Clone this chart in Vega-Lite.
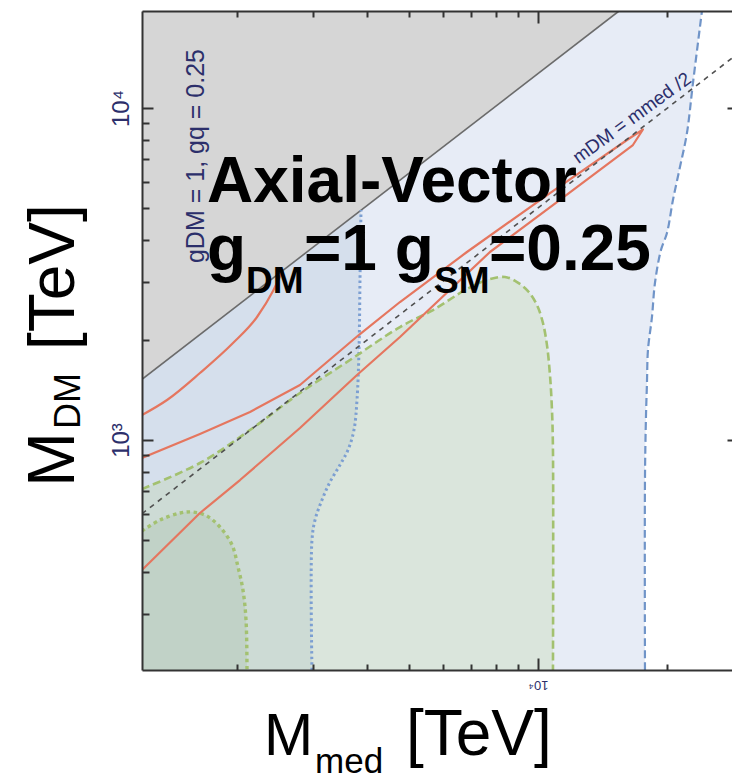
{
  "$schema": "https://vega.github.io/schema/vega-lite/v6.json",
  "width": 590,
  "height": 659,
  "autosize": {"type": "none"},
  "padding": {"left": 142, "top": 11, "right": 0, "bottom": 109},
  "background": "white",
  "config": {
    "view": {"stroke": null},
    "axis": {"grid": false, "domainColor": "#333333", "domainWidth": 2, "tickColor": "#333333", "tickWidth": 2, "labelFont": "Liberation Sans"}
  },
  "datasets": {
    "blueDashed": [
      {"i": 1, "x": 17736, "y": 202.9},
      {"i": 2, "x": 17736, "y": 757.6},
      {"i": 3, "x": 17831, "y": 1173},
      {"i": 4, "x": 17927, "y": 1484.7},
      {"i": 5, "x": 18023, "y": 1866.5},
      {"i": 6, "x": 18413, "y": 2347},
      {"i": 7, "x": 18710, "y": 2971},
      {"i": 8, "x": 19322, "y": 3735},
      {"i": 9, "x": 19953, "y": 4202},
      {"i": 10, "x": 20604, "y": 5283},
      {"i": 11, "x": 21391, "y": 6642},
      {"i": 12, "x": 22208, "y": 8408},
      {"i": 13, "x": 22934, "y": 11893},
      {"i": 14, "x": 24065, "y": 19598}
    ],
    "blueDotted": [
      {"i": 1, "x": 2981, "y": 202.9},
      {"i": 2, "x": 2981, "y": 499.7},
      {"i": 3, "x": 3030, "y": 574.1},
      {"i": 4, "x": 3145, "y": 659.6},
      {"i": 5, "x": 3283, "y": 747.2},
      {"i": 6, "x": 3463, "y": 840.9},
      {"i": 7, "x": 3615, "y": 933},
      {"i": 8, "x": 3733, "y": 1071.8},
      {"i": 9, "x": 3794, "y": 1319.9},
      {"i": 10, "x": 3835, "y": 1866.5},
      {"i": 11, "x": 3855, "y": 3033.5},
      {"i": 12, "x": 3876, "y": 4929}
    ],
    "greenDashed": [
      {"i": 1, "x": 1199.6, "y": 711.7},
      {"i": 2, "x": 1636.3, "y": 852.6},
      {"i": 3, "x": 2139.1, "y": 1071.8},
      {"i": 4, "x": 2795.5, "y": 1385.7},
      {"i": 5, "x": 3654, "y": 1741.8},
      {"i": 6, "x": 4776, "y": 2189.5},
      {"i": 7, "x": 5700, "y": 2463.7},
      {"i": 8, "x": 6836, "y": 2849.7},
      {"i": 9, "x": 7733, "y": 3054.5},
      {"i": 10, "x": 8380, "y": 3097},
      {"i": 11, "x": 8938, "y": 2991.6},
      {"i": 12, "x": 9479, "y": 2810},
      {"i": 13, "x": 9946, "y": 2550.6},
      {"i": 14, "x": 10271, "y": 2251},
      {"i": 15, "x": 10494, "y": 1932},
      {"i": 16, "x": 10664, "y": 1569.7},
      {"i": 17, "x": 10779, "y": 1231},
      {"i": 18, "x": 10836, "y": 933},
      {"i": 19, "x": 10836, "y": 202.9}
    ],
    "greenDotted": [
      {"i": 1, "x": 1199.6, "y": 532},
      {"i": 2, "x": 1321, "y": 574.1},
      {"i": 3, "x": 1471, "y": 602.7},
      {"i": 4, "x": 1576, "y": 606.9},
      {"i": 5, "x": 1699, "y": 590.3},
      {"i": 6, "x": 1821, "y": 547},
      {"i": 7, "x": 1943, "y": 482.9},
      {"i": 8, "x": 2006, "y": 414.5},
      {"i": 9, "x": 2060, "y": 353.3},
      {"i": 10, "x": 2094, "y": 287},
      {"i": 11, "x": 2105, "y": 202.9}
    ],
    "redUpper": [
      {"i": 1, "x": 1199.6, "y": 1189.3},
      {"i": 2, "x": 1371.7, "y": 1319.9},
      {"i": 3, "x": 1636.3, "y": 1591.6},
      {"i": 4, "x": 1953, "y": 1959.6},
      {"i": 5, "x": 2221, "y": 2347},
      {"i": 6, "x": 2419.5, "y": 2810},
      {"i": 7, "x": 2552, "y": 3251}
    ],
    "redLoop": [
      {"i": 1, "x": 1199.6, "y": 882.6},
      {"i": 2, "x": 1636.3, "y": 1042.5},
      {"i": 3, "x": 2139.1, "y": 1214.4},
      {"i": 4, "x": 2795.5, "y": 1464.3},
      {"i": 5, "x": 3855, "y": 2085.8},
      {"i": 6, "x": 4776, "y": 2604.2},
      {"i": 7, "x": 6836, "y": 3683.8},
      {"i": 8, "x": 10664, "y": 5544.8},
      {"i": 9, "x": 16363, "y": 8122.5},
      {"i": 10, "x": 17547, "y": 8615},
      {"i": 11, "x": 16628, "y": 7737},
      {"i": 12, "x": 11249, "y": 5284},
      {"i": 13, "x": 7733, "y": 3683.8},
      {"i": 14, "x": 4776, "y": 2042.9},
      {"i": 15, "x": 3794, "y": 1569.7},
      {"i": 16, "x": 2795.5, "y": 1086.8},
      {"i": 17, "x": 2027.7, "y": 757.6},
      {"i": 18, "x": 1636.3, "y": 602.7},
      {"i": 19, "x": 1199.6, "y": 405.9}
    ],
    "grayEdge": [
      {"i": 1, "x": 1199.6, "y": 1523.5},
      {"i": 2, "x": 15432, "y": 19598}
    ],
    "halfLine": [
      {"i": 1, "x": 1199.6, "y": 599.8},
      {"i": 2, "x": 28267, "y": 14133.5}
    ]
  },
  "layer": [
    {
      "data": {"name": "blueDashed"},
      "mark": {"type": "area", "orient": "horizontal", "interpolate": "catmull-rom", "color": "#e7ecf6", "clip": true},
      "encoding": {
        "y": {"field": "y", "type": "quantitative", "scale": {"type": "log", "domain": [202.9, 19598], "nice": false},
              "axis": {"orient": "left", "zindex": 2, "title": null, "values": [1000, 10000], "ticks": false, "domain": true, "labelAngle": -90, "labelExpr": "datum.value >= 10000 ? '10⁴' : '10³'", "labelFontSize": 24, "labelColor": "#2c2f6b", "labelPadding": 9}},
        "x": {"field": "x", "type": "quantitative", "stack": null, "scale": {"type": "log", "domain": [1199.6, 28267], "nice": false},
              "axis": {"orient": "bottom", "zindex": 2, "title": null, "values": [10000], "ticks": false, "domain": true, "labelAngle": 180, "labelExpr": "'10⁴'", "labelFontSize": 13, "labelColor": "#2c2f6b", "labelPadding": 7}}
      }
    },
    {
      "data": {"name": "blueDotted"},
      "mark": {"type": "area", "orient": "horizontal", "interpolate": "catmull-rom", "color": "#d5dfec", "clip": true},
      "encoding": {
        "y": {"field": "y", "type": "quantitative", "scale": {"type": "log", "domain": [202.9, 19598], "nice": false},
              "axis": {"orient": "left", "zindex": 2, "title": null, "values": [1000, 10000], "labels": false, "domain": false, "tickSize": -11}},
        "x": {"field": "x", "type": "quantitative", "stack": null, "scale": {"type": "log", "domain": [1199.6, 28267], "nice": false},
              "axis": {"orient": "bottom", "zindex": 2, "title": null, "values": [10000], "labels": false, "domain": false, "tickSize": -12}}
      }
    },
    {
      "data": {"name": "greenDashed"},
      "transform": [{"filter": "datum.i < 19"}],
      "mark": {"type": "area", "interpolate": "catmull-rom", "color": "#bed4a0", "opacity": 0.3, "clip": true},
      "encoding": {
        "x": {"field": "x", "type": "quantitative", "scale": {"type": "log", "domain": [1199.6, 28267], "nice": false},
              "axis": {"orient": "bottom", "zindex": 2, "title": null, "values": [2000, 3000, 4000, 5000, 6000, 7000, 8000, 9000, 20000], "labels": false, "domain": false, "tickSize": -6}},
        "y": {"field": "y", "type": "quantitative", "stack": null, "scale": {"type": "log", "domain": [202.9, 19598], "nice": false},
              "axis": {"orient": "left", "zindex": 2, "title": null, "values": [300, 400, 500, 600, 700, 800, 900, 2000, 3000, 4000, 5000, 6000, 7000, 8000, 9000], "labels": false, "domain": false, "tickSize": -7}}
      }
    },
    {
      "data": {"name": "greenDotted"},
      "mark": {"type": "area", "interpolate": "catmull-rom", "color": "#a0b9a0", "opacity": 0.25, "clip": true},
      "encoding": {
        "x": {"field": "x", "type": "quantitative", "scale": {"type": "log", "domain": [1199.6, 28267], "nice": false},
              "axis": {"orient": "top", "zindex": 2, "title": null, "values": [10000], "labels": false, "domain": true, "tickSize": -12}},
        "y": {"field": "y", "type": "quantitative", "stack": null, "scale": {"type": "log", "domain": [202.9, 19598], "nice": false},
              "axis": {"orient": "right", "zindex": 2, "title": null, "values": [1000, 10000], "labels": false, "domain": false, "tickSize": -5}}
      }
    },
    {
      "data": {"name": "grayEdge"},
      "mark": {"type": "area", "orient": "horizontal", "color": "#d6d6d6", "clip": true},
      "encoding": {
        "y": {"field": "y", "type": "quantitative", "scale": {"type": "log", "domain": [202.9, 19598], "nice": false}, "axis": null},
        "x": {"field": "x", "type": "quantitative", "stack": null, "scale": {"type": "log", "domain": [1199.6, 28267], "nice": false},
              "axis": {"orient": "top", "zindex": 2, "title": null, "values": [2000, 3000, 4000, 5000, 6000, 7000, 8000, 9000, 20000], "labels": false, "domain": false, "tickSize": -6}}
      }
    },
    {
      "data": {"name": "grayEdge"},
      "mark": {"type": "line", "color": "#6b6b6b", "strokeWidth": 1.6, "clip": true},
      "encoding": {
        "x": {"field": "x", "type": "quantitative", "axis": null},
        "y": {"field": "y", "type": "quantitative", "axis": null},
        "order": {"field": "i"}
      }
    },
    {
      "data": {"name": "blueDashed"},
      "mark": {"type": "line", "interpolate": "catmull-rom", "color": "#7094c8", "strokeWidth": 2.2, "strokeDash": [8, 4], "clip": true},
      "encoding": {
        "x": {"field": "x", "type": "quantitative", "axis": null},
        "y": {"field": "y", "type": "quantitative", "axis": null},
        "order": {"field": "i"}
      }
    },
    {
      "data": {"name": "blueDotted"},
      "mark": {"type": "line", "interpolate": "catmull-rom", "color": "#7c9fd2", "strokeWidth": 3, "strokeDash": [2.5, 3], "clip": true},
      "encoding": {
        "x": {"field": "x", "type": "quantitative", "axis": null},
        "y": {"field": "y", "type": "quantitative", "axis": null},
        "order": {"field": "i"}
      }
    },
    {
      "data": {"name": "greenDashed"},
      "mark": {"type": "line", "interpolate": "catmull-rom", "color": "#a3c170", "strokeWidth": 2.6, "strokeDash": [8, 4], "clip": true},
      "encoding": {
        "x": {"field": "x", "type": "quantitative", "axis": null},
        "y": {"field": "y", "type": "quantitative", "axis": null},
        "order": {"field": "i"}
      }
    },
    {
      "data": {"name": "greenDotted"},
      "mark": {"type": "line", "interpolate": "catmull-rom", "color": "#a3c170", "strokeWidth": 3.4, "strokeDash": [3.5, 3.5], "clip": true},
      "encoding": {
        "x": {"field": "x", "type": "quantitative", "axis": null},
        "y": {"field": "y", "type": "quantitative", "axis": null},
        "order": {"field": "i"}
      }
    },
    {
      "data": {"name": "redUpper"},
      "mark": {"type": "line", "color": "#e5765f", "strokeWidth": 2.2, "interpolate": "monotone", "clip": true},
      "encoding": {
        "x": {"field": "x", "type": "quantitative", "axis": null},
        "y": {"field": "y", "type": "quantitative", "axis": null},
        "order": {"field": "i"}
      }
    },
    {
      "data": {"name": "redLoop"},
      "mark": {"type": "line", "color": "#e5765f", "strokeWidth": 2.2, "strokeJoin": "round", "clip": true},
      "encoding": {
        "x": {"field": "x", "type": "quantitative", "axis": null},
        "y": {"field": "y", "type": "quantitative", "axis": null},
        "order": {"field": "i"}
      }
    },
    {
      "data": {"name": "halfLine"},
      "mark": {"type": "line", "color": "#505050", "strokeWidth": 1.6, "strokeDash": [5, 5], "clip": true},
      "encoding": {
        "x": {"field": "x", "type": "quantitative", "axis": null},
        "y": {"field": "y", "type": "quantitative", "axis": null},
        "order": {"field": "i"}
      }
    },
    {
      "data": {"values": [{}]},
      "mark": {"type": "text", "text": "gDM = 1, gq = 0.25", "font": "Liberation Sans", "fontSize": 25, "angle": 270, "align": "center", "baseline": "middle", "color": "#2c2f6b"},
      "encoding": {"x": {"datum": 1602, "axis": null}, "y": {"datum": 7168, "axis": null}}
    },
    {
      "data": {"values": [{}]},
      "mark": {"type": "text", "text": "mDM = mmed /2", "font": "Liberation Sans", "fontSize": 19, "angle": -36, "align": "center", "baseline": "middle", "color": "#2c2f6b"},
      "encoding": {"x": {"datum": 16543, "axis": null}, "y": {"datum": 9330, "axis": null}}
    },
    {
      "data": {"values": [{}]},
      "mark": {"type": "text", "text": "Axial-Vector", "font": "Liberation Sans", "fontWeight": "bold", "fontSize": 64, "align": "left", "baseline": "alphabetic", "color": "#000000"},
      "encoding": {"x": {"datum": 1699, "axis": null}, "y": {"datum": 5210, "axis": null}}
    },
    {
      "data": {"values": [{}]},
      "mark": {"type": "text", "text": "g", "font": "Liberation Sans", "fontWeight": "bold", "fontSize": 64, "align": "left", "baseline": "alphabetic", "color": "#000000"},
      "encoding": {"x": {"datum": 1699, "axis": null}, "y": {"datum": 3251, "axis": null}}
    },
    {
      "data": {"values": [{}]},
      "mark": {"type": "text", "text": "DM", "font": "Liberation Sans", "fontWeight": "bold", "fontSize": 37, "align": "left", "baseline": "alphabetic", "color": "#000000"},
      "encoding": {"x": {"datum": 2094, "axis": null}, "y": {"datum": 2772, "axis": null}}
    },
    {
      "data": {"values": [{}]},
      "mark": {"type": "text", "text": "=1 g", "font": "Liberation Sans", "fontWeight": "bold", "fontSize": 64, "align": "left", "baseline": "alphabetic", "color": "#000000"},
      "encoding": {"x": {"datum": 2856, "axis": null}, "y": {"datum": 3251, "axis": null}}
    },
    {
      "data": {"values": [{}]},
      "mark": {"type": "text", "text": "SM", "font": "Liberation Sans", "fontWeight": "bold", "fontSize": 37, "align": "left", "baseline": "alphabetic", "color": "#000000"},
      "encoding": {"x": {"datum": 5730, "axis": null}, "y": {"datum": 2772, "axis": null}}
    },
    {
      "data": {"values": [{}]},
      "mark": {"type": "text", "text": "=0.25", "font": "Liberation Sans", "fontWeight": "bold", "fontSize": 64, "align": "left", "baseline": "alphabetic", "color": "#000000"},
      "encoding": {"x": {"datum": 7692, "axis": null}, "y": {"datum": 3251, "axis": null}}
    },
    {
      "data": {"values": [{}]},
      "mark": {"type": "text", "text": "M", "font": "Liberation Sans", "fontSize": 59, "align": "left", "baseline": "alphabetic", "color": "#000000"},
      "encoding": {"x": {"datum": 2306, "axis": null}, "y": {"datum": 112.5, "axis": null}}
    },
    {
      "data": {"values": [{}]},
      "mark": {"type": "text", "text": "med", "font": "Liberation Sans", "fontSize": 35, "align": "left", "baseline": "alphabetic", "color": "#000000"},
      "encoding": {"x": {"datum": 3030, "axis": null}, "y": {"datum": 99.3, "axis": null}}
    },
    {
      "data": {"values": [{}]},
      "mark": {"type": "text", "text": "[TeV]", "font": "Liberation Sans", "fontSize": 64, "align": "left", "baseline": "alphabetic", "color": "#000000"},
      "encoding": {"x": {"datum": 4932, "axis": null}, "y": {"datum": 112.5, "axis": null}}
    },
    {
      "data": {"values": [{}]},
      "mark": {"type": "text", "text": "M", "font": "Liberation Sans", "fontSize": 66, "angle": 270, "align": "left", "baseline": "alphabetic", "color": "#000000"},
      "encoding": {"x": {"datum": 833.4, "axis": null}, "y": {"datum": 721.7, "axis": null}}
    },
    {
      "data": {"values": [{}]},
      "mark": {"type": "text", "text": "DM", "font": "Liberation Sans", "fontSize": 36, "angle": 270, "align": "left", "baseline": "alphabetic", "color": "#000000"},
      "encoding": {"x": {"datum": 860.6, "axis": null}, "y": {"datum": 1080, "axis": null}}
    },
    {
      "data": {"values": [{}]},
      "mark": {"type": "text", "text": "[TeV]", "font": "Liberation Sans", "fontSize": 64, "angle": 270, "align": "left", "baseline": "alphabetic", "color": "#000000"},
      "encoding": {"x": {"datum": 833.4, "axis": null}, "y": {"datum": 1866.5, "axis": null}}
    }
  ],
  "resolve": {"axis": {"x": "independent", "y": "independent"}}
}
